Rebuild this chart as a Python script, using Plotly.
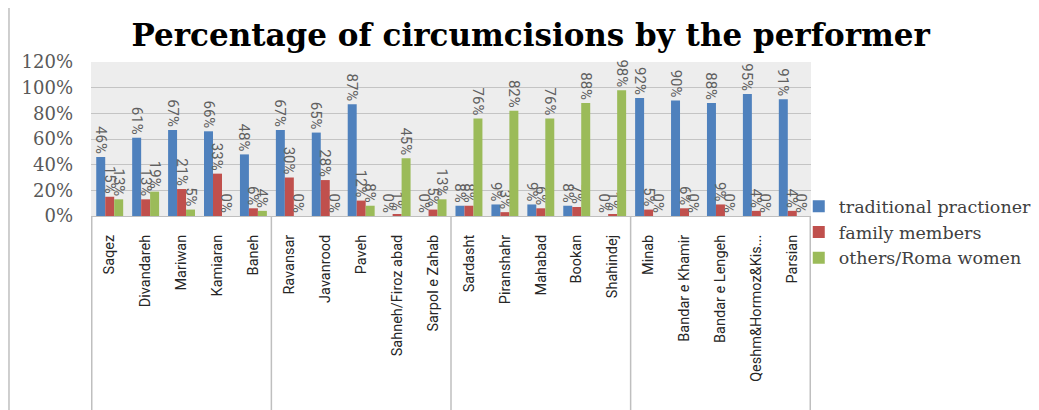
"""Percentage of circumcisions by the performer — grouped bar chart."""

import plotly.graph_objects as go

cities = [
    "Saqez", "Divandareh", "Mariwan", "Kamiaran", "Baneh",
    "Ravansar", "Javanrood", "Paveh", "Sahneh/Firoz abad", "Sarpol e Zahab",
    "Sardasht", "Piranshahr", "Mahabad", "Bookan", "Shahindej",
    "Minab", "Bandar e Khamir", "Bandar e Lengeh", "Qeshm&Hormoz&Kis...", "Parsian",
]
traditional = [46, 61, 67, 66, 48, 67, 65, 87, 0, 0, 8, 9, 9, 8, 0, 92, 90, 88, 95, 91]
family = [15, 13, 21, 33, 6, 30, 28, 12, 1, 5, 8, 3, 6, 7, 1, 5, 6, 9, 4, 4]
others = [13, 19, 5, 0, 4, 0, 0, 8, 45, 13, 76, 82, 76, 88, 98, 0, 0, 0, 0, 0]

series = [
    ("traditional practioner", traditional, "#4F81BD"),
    ("family members", family, "#C0504D"),
    ("others/Roma women", others, "#9BBB59"),
]

fig = go.Figure()
for name, vals, color in series:
    fig.add_trace(go.Bar(
        x=cities,
        y=vals,
        name=name,
        marker=dict(color=color, line=dict(width=0)),
        text=[f"{v}%" for v in vals],
        textposition="outside",
        textangle=90,
        constraintext="none",
        cliponaxis=False,
        textfont=dict(family="Roboto, sans-serif", size=15, color="#606060"),
    ))

# group dividers below the category axis (page has an 8px body margin)
for xpos in [-0.5, 4.5, 9.5, 14.5, 19.5]:
    fig.add_shape(type="line", xref="x", yref="paper", x0=xpos, x1=xpos,
                  y0=0, y1=-1.3, line=dict(color="#BFBFBF", width=1.5))
fig.add_shape(type="line", xref="paper", yref="paper", x0=-0.1139, x1=-0.1139,
              y0=-1.3, y1=1.4, line=dict(color="#BFBFBF", width=1.5))

fig.update_layout(
    width=1031,
    height=402,
    barmode="group",
    bargap=0.25,
    bargroupgap=0,
    paper_bgcolor="white",
    plot_bgcolor="#EDEDED",
    margin=dict(l=83, r=228, t=54, b=194, autoexpand=False),
    title=dict(
        text="<b>Percentage of circumcisions by the performer</b>",
        x=0.507, xanchor="center", y=0.933, yanchor="middle",
        font=dict(family="DejaVu Serif, serif", size=31, color="black"),
    ),
    legend=dict(
        x=0.983, xanchor="left", y=0.18, yanchor="top",
        font=dict(family="DejaVu Serif, serif", size=17.5, color="#404040"),
        bgcolor="rgba(0,0,0,0)",
    ),
    showlegend=True,
)
fig.update_yaxes(
    range=[0, 120], dtick=20, ticksuffix="%",
    showgrid=True, gridcolor="#C4C4C4", gridwidth=1,
    zeroline=False, showline=False,
    ticklabelstandoff=17, automargin=False,
    tickfont=dict(family="DejaVu Serif, serif", size=18, color="#595959"),
)
fig.update_xaxes(
    tickangle=-90,
    showline=True, linecolor="#BFBFBF", linewidth=1,
    ticklabelstandoff=12, automargin=False,
    tickfont=dict(family="Roboto, sans-serif", size=14.5, color="#262626"),
)

fig.write_html("out.html")
